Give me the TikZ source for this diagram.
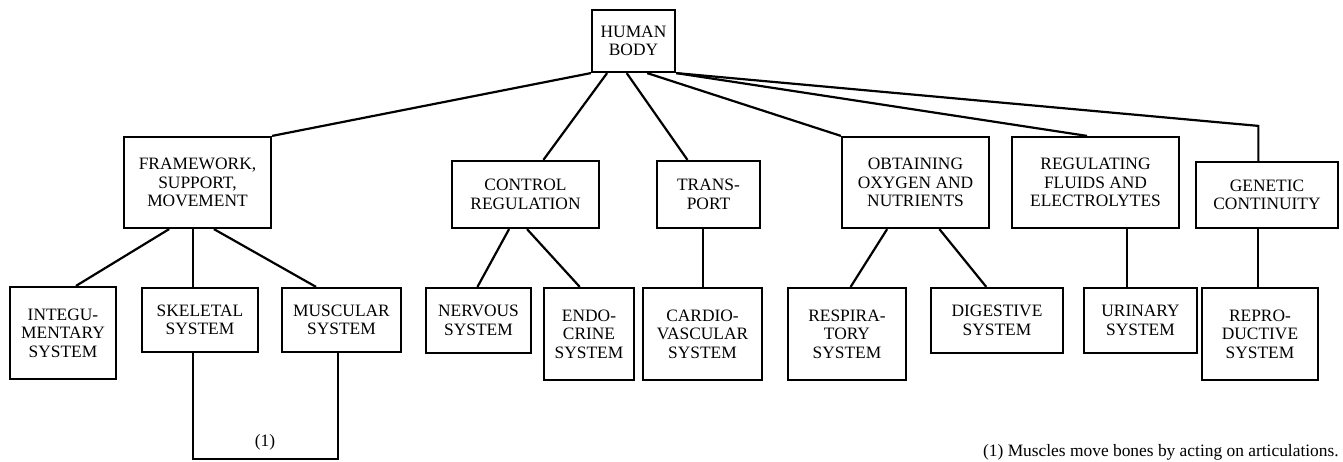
\documentclass[tikz,border=0pt]{standalone}
\usepackage{fontspec}
\setmainfont{Liberation Serif}
\usetikzlibrary{calc}
\tikzset{
  sysbox/.style={draw, line width=1.25pt, align=center, inner sep=1pt,
    font=\fontsize{9.9}{10.6}\selectfont},
  link/.style={line width=1.25pt},
  notetext/.style={font=\fontsize{9.9}{10.6}\selectfont, inner sep=0pt}
}
\begin{document}
\begin{tikzpicture}[x=0.02cm, y=-0.02cm]
    \useasboundingbox (0,0) rectangle (1343,462);
    % top and second level
    \node[sysbox, minimum width=1.66cm, minimum height=1.24cm] (body) at (633.5,41) {HUMAN\\BODY};
    \node[sysbox, minimum width=2.94cm, minimum height=1.82cm] (frame) at (197.5,182.5) {FRAMEWORK,\\SUPPORT,\\MOVEMENT};
    \node[sysbox, minimum width=2.94cm, minimum height=1.34cm] (control) at (525.5,194.5) {CONTROL\\REGULATION};
    \node[sysbox, minimum width=2.06cm, minimum height=1.34cm] (transp) at (708.5,194.5) {TRANS-\\PORT};
    \node[sysbox, minimum width=2.94cm, minimum height=1.82cm] (obtain) at (915.5,182.5) {OBTAINING\\OXYGEN AND\\NUTRIENTS};
    \node[sysbox, minimum width=3.34cm, minimum height=1.82cm] (regul) at (1095.5,182.5) {REGULATING\\FLUIDS AND\\ELECTROLYTES};
    \node[sysbox, minimum width=2.84cm, minimum height=1.32cm] (genet) at (1267,195) {GENETIC\\CONTINUITY};
    % systems
    \node[sysbox, minimum width=2.12cm, minimum height=1.84cm] (integ) at (63,333) {INTEGU-\\MENTARY\\SYSTEM};
    \node[sysbox, minimum width=2.32cm, minimum height=1.28cm] (skel) at (200,320) {SKELETAL\\SYSTEM};
    \node[sysbox, minimum width=2.38cm, minimum height=1.28cm] (musc) at (341.5,320) {MUSCULAR\\SYSTEM};
    \node[sysbox, minimum width=2.10cm, minimum height=1.30cm] (nerv) at (478.5,320.5) {NERVOUS\\SYSTEM};
    \node[sysbox, minimum width=1.80cm, minimum height=1.84cm] (endo) at (589,334) {ENDO-\\CRINE\\SYSTEM};
    \node[sysbox, minimum width=2.38cm, minimum height=1.84cm] (cardio) at (702.5,334) {CARDIO-\\VASCULAR\\SYSTEM};
    \node[sysbox, minimum width=2.36cm, minimum height=1.84cm] (resp) at (847,334) {RESPIRA-\\TORY\\SYSTEM};
    \node[sysbox, minimum width=2.64cm, minimum height=1.30cm] (diges) at (997,320.5) {DIGESTIVE\\SYSTEM};
    \node[sysbox, minimum width=2.26cm, minimum height=1.30cm] (urin) at (1140.5,320.5) {URINARY\\SYSTEM};
    \node[sysbox, minimum width=2.32cm, minimum height=1.84cm] (repro) at (1260,334) {REPRO-\\DUCTIVE\\SYSTEM};
    % links from the body
    \draw[link] (body.south west) -- (frame.north east);
    \draw[link] ($(body.south west)!0.19!(body.south east)$) -- ($(control.north west)!0.62!(control.north east)$);
    \draw[link] ($(body.south west)!0.42!(body.south east)$) -- ($(transp.north west)!0.30!(transp.north east)$);
    \draw[link] ($(body.south west)!0.66!(body.south east)$) -- (obtain.north west);
    \draw[link] (body.south east) -- ($(regul.north west)!0.45!(regul.north east)$);
    \coordinate (gtop) at ($(genet.north west)!0.44!(genet.north east)$);
    \coordinate (gbend) at ($(gtop)+(0,-35)$);
    \draw[link] (body.south east) -- (gbend) -- (gtop);
    % links to the systems
    \draw[link] ($(frame.south west)!0.31!(frame.south east)$) -- ($(integ.north west)!0.62!(integ.north east)$);
    \coordinate (sktop) at ($(skel.north west)!0.44!(skel.north east)$);
    \draw[link] (sktop) -- (sktop |- frame.south);
    \draw[link] ($(frame.south west)!0.61!(frame.south east)$) -- ($(musc.north west)!0.29!(musc.north east)$);
    \draw[link] ($(control.south west)!0.39!(control.south east)$) -- ($(nerv.north west)!0.49!(nerv.north east)$);
    \draw[link] ($(control.south west)!0.51!(control.south east)$) -- ($(endo.north west)!0.40!(endo.north east)$);
    \coordinate (cvtop) at ($(cardio.north)+(0.5,0)$);
    \draw[link] (cvtop) -- (cvtop |- transp.south);
    \draw[link] ($(obtain.south west)!0.31!(obtain.south east)$) -- ($(resp.north west)!0.53!(resp.north east)$);
    \draw[link] ($(obtain.south west)!0.66!(obtain.south east)$) -- ($(diges.north west)!0.42!(diges.north east)$);
    \coordinate (urtop) at ($(urin.north west)!0.38!(urin.north east)$);
    \draw[link] (urtop) -- (urtop |- regul.south);
    \draw[link] (repro.north -| gtop) -- (gtop |- genet.south);
    % skeletal -- muscular bracket
    \coordinate (skbot) at ($(skel.south west)!0.44!(skel.south east)$);
    \coordinate (mubot) at ($(musc.south west)!0.47!(musc.south east)$);
    \draw[link] (skbot) -- ($(skbot)+(0,106)$) -| (mubot);
    \node[notetext] (mark) at (265,442) {(1)};
    \node[notetext, anchor=east] (note) at (1339,452) {(1) Muscles move bones by acting on articulations.};
  \end{tikzpicture}
\end{document}
